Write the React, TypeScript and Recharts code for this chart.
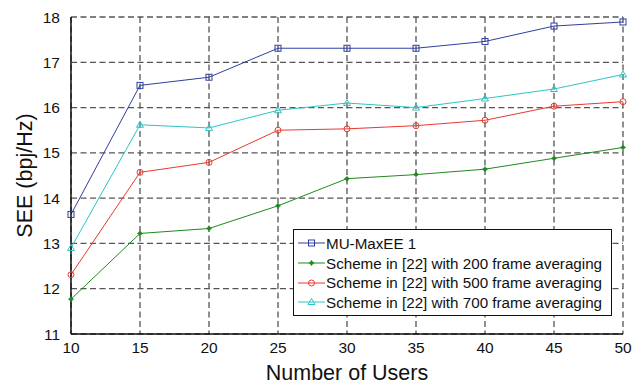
import React from 'react'
import { CartesianGrid, Line, LineChart, XAxis, YAxis } from 'recharts'

const users = [10, 15, 20, 25, 30, 35, 40, 45, 50]
const maxEE = [13.64, 16.49, 16.67, 17.31, 17.31, 17.31, 17.46, 17.8, 17.89]
const avg200 = [11.77, 13.22, 13.33, 13.83, 14.43, 14.52, 14.64, 14.88, 15.12]
const avg500 = [12.31, 14.57, 14.79, 15.5, 15.53, 15.6, 15.72, 16.03, 16.13]
const avg700 = [12.9, 15.62, 15.55, 15.94, 16.1, 16.0, 16.2, 16.41, 16.73]
const xTicks = [10, 15, 20, 25, 30, 35, 40, 45, 50]
const yTicks = [11, 12, 13, 14, 15, 16, 17, 18]

const seriesNames = [
  'MU-MaxEE 1',
  'Scheme in [22] with 200 frame averaging',
  'Scheme in [22] with 500 frame averaging',
  'Scheme in [22] with 700 frame averaging',
]
const seriesKeys = ['maxEE', 'avg200', 'avg500', 'avg700']
const colors = ['#2f3f9f', '#1f8a1f', '#e8392e', '#2ec4c4']

const data = users.map((u, i) => ({
  users: u,
  maxEE: maxEE[i],
  avg200: avg200[i],
  avg500: avg500[i],
  avg700: avg700[i],
}))

const FONT = '"Liberation Sans", Arial, sans-serif'

function Marker({ kind, cx, cy, color }: { kind: number; cx: number; cy: number; color: string }) {
  if (kind === 0) return <rect x={cx - 3} y={cy - 3} width={6} height={6} fill="none" stroke={color} strokeWidth={1} />
  if (kind === 1) return (
    <g>
      <circle cx={cx} cy={cy} r={2} fill={color} />
      <path d={`M${cx - 3},${cy}H${cx + 3}M${cx},${cy - 3}V${cy + 3}`} stroke={color} strokeWidth={0.8} />
    </g>
  )
  if (kind === 2) return <circle cx={cx} cy={cy} r={3} fill="none" stroke={color} strokeWidth={1} />
  return <path d={`M${cx},${cy - 3.5}L${cx + 3.5},${cy + 2.5}L${cx - 3.5},${cy + 2.5}Z`} fill="none" stroke={color} strokeWidth={1} />
}

function LegendBox() {
  return (
    <div style={{
      position: 'absolute', left: 293, top: 229, background: '#fff', border: '1.5px solid #111',
      width: 319, height: 87, boxSizing: 'border-box', padding: '3.5px 0 0 4px',
      fontFamily: FONT, fontSize: 15.2, color: '#111',
    }}>
      {seriesNames.map((n, i) => (
        <div key={n} style={{ display: 'flex', alignItems: 'center', height: 19.7, whiteSpace: 'nowrap' }}>
          <svg width={27} height={12} style={{ marginRight: 1 }}>
            <line x1={0} y1={6} x2={27} y2={6} stroke={colors[i]} strokeWidth={1} />
            <Marker kind={i} cx={13.5} cy={6} color={colors[i]} />
          </svg>
          <span>{n}</span>
        </div>
      ))}
    </div>
  )
}

export default function App() {
  return (
    <div style={{ position: 'absolute', left: 0, top: 0, width: 642, height: 386, background: '#fff' }}>
      <LineChart width={642} height={386} data={data} margin={{ top: 17, right: 19, left: 0, bottom: 0 }}>
        <CartesianGrid stroke="#555" strokeDasharray="6 3.5" strokeWidth={1.3}
          horizontalValues={yTicks} verticalValues={xTicks} />
        <XAxis dataKey="users" type="number" domain={[10, 50]} ticks={xTicks} height={52}
          axisLine={{ stroke: '#111', strokeWidth: 1.5 }} tickLine={false} tickMargin={2}
          tick={{ fontSize: 15.5, fill: '#111', fontFamily: FONT }}
          label={{ value: 'Number of Users', position: 'insideBottom', offset: 6, fontSize: 21.5, fill: '#111', fontFamily: FONT }} />
        <XAxis xAxisId="top" orientation="top" dataKey="users" type="number" domain={[10, 50]} ticks={xTicks}
          height={0} tick={false} tickLine={false} axisLine={{ stroke: '#111', strokeWidth: 1.5 }} />
        <YAxis type="number" domain={[11, 18]} ticks={yTicks} width={71} interval={0}
          axisLine={{ stroke: '#111', strokeWidth: 1.5 }} tickLine={false} tickMargin={5}
          tick={{ fontSize: 15.5, fill: '#111', fontFamily: FONT }}
          label={{ value: 'SEE (bpj/Hz)', angle: -90, position: 'insideLeft', offset: 24, fontSize: 21.5, fill: '#111', fontFamily: FONT, style: { textAnchor: 'middle' } }} />
        <YAxis yAxisId="right" orientation="right" type="number" domain={[11, 18]} ticks={yTicks}
          width={0} tick={false} tickLine={false} axisLine={{ stroke: '#111', strokeWidth: 1.5 }} />
        {seriesKeys.map((k, i) => (
          <Line key={k} type="linear" dataKey={k} name={seriesNames[i]} stroke={colors[i]} strokeWidth={1}
            isAnimationActive={false}
            dot={(p: any) => <Marker key={`${k}-${p.index}`} kind={i} cx={p.cx} cy={p.cy} color={colors[i]} />}
            activeDot={false} />
        ))}
      </LineChart>
      <LegendBox />
    </div>
  )
}
